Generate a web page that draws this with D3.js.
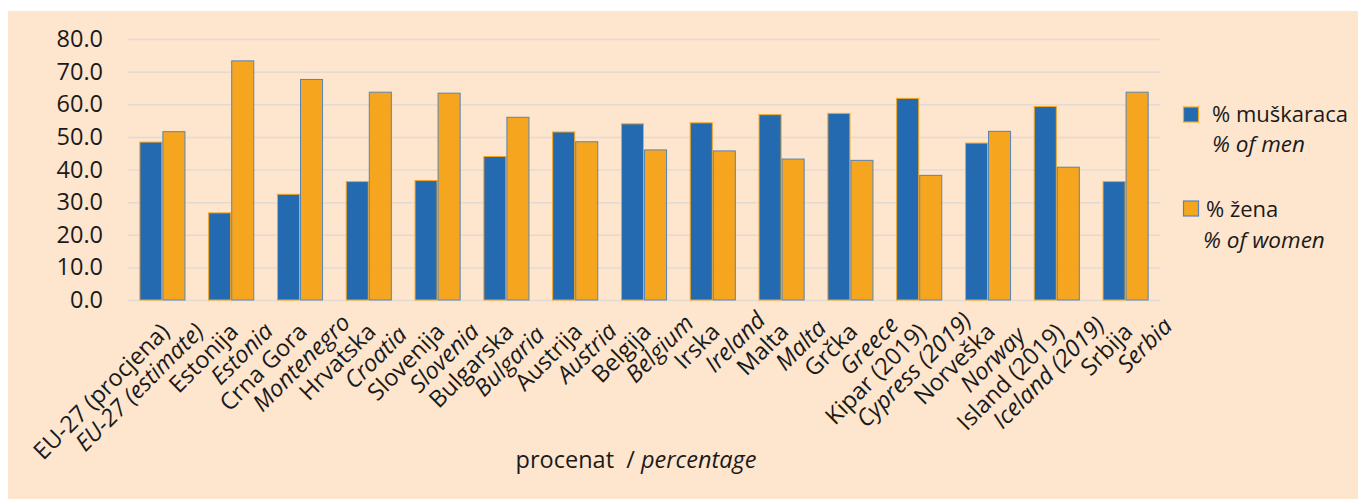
<!DOCTYPE html>
<html>
<head>
<meta charset="utf-8">
<script src="https://cdn.jsdelivr.net/npm/d3@7"></script>
<style>
  html, body { margin: 0; padding: 0; background: #ffffff; }
  svg { display: block; }
  text { font-family: "Open Sans", "Noto Sans", sans-serif; fill: #1a1a1a; }
</style>
</head>
<body>
<svg id="chart" width="1358" height="499"></svg>
<script>
// ---- data ----
const categoriesLocal = ["EU-27 (procjena)", "Estonija", "Crna Gora", "Hrvatska", "Slovenija", "Bulgarska", "Austrija", "Belgija", "Irska", "Malta", "Grčka", "Kipar (2019)", "Norveška", "Island (2019)", "Srbija"];
const categoriesEnglish = ["EU-27 (estimate)", "Estonia", "Montenegro", "Croatia", "Slovenia", "Bulgaria", "Austria", "Belgium", "Ireland", "Malta", "Greece", "Cypress (2019)", "Norway", "Iceland (2019)", "Serbia"];
const menValues = [48.4, 26.7, 32.4, 36.3, 36.6, 44.0, 51.5, 54.0, 54.3, 56.8, 57.2, 61.8, 48.1, 59.3, 36.3];
const womenValues = [51.6, 73.3, 67.6, 63.7, 63.4, 56.0, 48.5, 46.0, 45.7, 43.2, 42.8, 38.2, 51.7, 40.7, 63.7];
const yTicks = [0, 10, 20, 30, 40, 50, 60, 70, 80];
const seriesLocal = ["% muškaraca", "% žena"];
const seriesEnglish = ["% of men", "% of women"];
const axisTitleLocal = "procenat";
const axisTitleEnglish = "percentage";

// ---- layout ----
(function () {
const BLUE = "#236ab0", ORANGE = "#f6a51e", BG = "#fde5ce", GRID = "#e3dad2";
const plotLeft = 128, plotRight = 1160, plotTop = 39, plotBottom = 300;

const svg = d3.select("#chart");
svg.append("rect").attr("x", 8).attr("y", 11).attr("width", 1350).attr("height", 488).attr("fill", BG);

const x0 = d3.scaleBand().domain(d3.range(categoriesLocal.length)).range([plotLeft, plotRight])
  .paddingInner(0.33).paddingOuter(0.165);
const x1 = d3.scaleBand().domain([0, 1]).range([0, x0.bandwidth()]);
const y = d3.scaleLinear().domain([0, 80]).range([plotBottom, plotTop]);

// gridlines + y labels
const yAxis = d3.axisLeft(y).tickValues(yTicks).tickSize(-(plotRight - plotLeft)).tickFormat(d => d.toFixed(1)).tickPadding(25);
const gy = svg.append("g").attr("transform", `translate(${plotLeft},0)`).call(yAxis);
gy.select(".domain").remove();
gy.selectAll(".tick line").attr("stroke", GRID).attr("stroke-width", 1.5);
gy.selectAll(".tick text").attr("font-size", "23.5px").attr("fill", "#1a1a1a")
  .attr("font-family", '"Open Sans", sans-serif');

// bars
const groups = svg.append("g").selectAll("g").data(categoriesLocal).join("g")
  .attr("transform", (d, i) => `translate(${x0(i)},0)`);
groups.append("rect")
  .attr("x", x1(0) + 0.5).attr("width", x1.bandwidth() - 1)
  .attr("y", (d, i) => y(menValues[i])).attr("height", (d, i) => y(0) - y(menValues[i]))
  .attr("fill", BLUE).attr("stroke", ORANGE).attr("stroke-width", 1);
groups.append("rect")
  .attr("x", x1(1) + 0.5).attr("width", x1.bandwidth() - 1)
  .attr("y", (d, i) => y(womenValues[i])).attr("height", (d, i) => y(0) - y(womenValues[i]))
  .attr("fill", ORANGE).attr("stroke", "#5a84b4").attr("stroke-width", 1);

// x category labels (two lines, rotated)
const labels = svg.append("g").selectAll("g").data(categoriesLocal).join("g")
  .attr("transform", (d, i) => `translate(${x0(i) + x0.bandwidth() / 2},305) rotate(-45)`);
labels.each(function (d, i) {
  const g = d3.select(this);
  const t1 = g.append("text").attr("text-anchor", "end").attr("x", -14).attr("y", 26)
    .attr("font-size", "23.5px").text(categoriesLocal[i]);
  const len1 = t1.node().getComputedTextLength();
  g.append("text").attr("text-anchor", "middle").attr("x", -14 - len1 / 2 + 30).attr("y", 50)
    .attr("font-size", "23.5px").attr("font-style", "italic").text(categoriesEnglish[i]);
});

// axis title
const title = svg.append("text").attr("x", 636).attr("y", 468).attr("text-anchor", "middle").attr("font-size", "23.5px")
  .attr("xml:space", "preserve");
title.append("tspan").text(axisTitleLocal + "  ");
title.append("tspan").text("/ ");
title.append("tspan").attr("font-style", "italic").text(axisTitleEnglish);

// legend
const legend = svg.append("g");
const legendItems = [
  { fill: BLUE, stroke: ORANGE, sy: 107, tx: 1212, ty1: 122, tx2: 1212, ty2: 152 },
  { fill: ORANGE, stroke: "#5a84b4", sy: 201, tx: 1206, ty1: 217, tx2: 1203, ty2: 248 }
];
legendItems.forEach((it, i) => {
  legend.append("rect").attr("x", 1183.5).attr("y", it.sy).attr("width", 15).attr("height", 15)
    .attr("fill", it.fill).attr("stroke", it.stroke).attr("stroke-width", 1.2);
  legend.append("text").attr("x", it.tx).attr("y", it.ty1).attr("font-size", "22px").text(seriesLocal[i]);
  legend.append("text").attr("x", it.tx2).attr("y", it.ty2).attr("font-size", "22.5px")
    .attr("font-style", "italic").text(seriesEnglish[i]);
});
})();
</script>
</body>
</html>
